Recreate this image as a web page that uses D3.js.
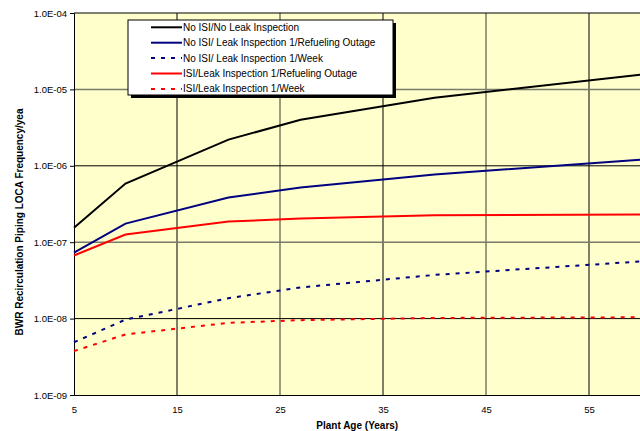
<!DOCTYPE html>
<html><head><meta charset="utf-8">
<script src="https://cdn.jsdelivr.net/npm/d3@7"></script>
<style>body{margin:0;background:#fff}svg{display:block;font-family:"Liberation Sans",Arial,sans-serif}</style>
</head><body>
<svg id="c" width="640" height="431"></svg>
<script>
const ages = [5, 10, 20, 27, 40, 60];
const seriesNames = [
  "No ISI/No Leak Inspection",
  "No ISI/ Leak Inspection 1/Refueling Outage",
  "No ISI/ Leak Inspection 1/Week",
  "ISI/Leak Inspection 1/Refueling Outage",
  "ISI/Leak Inspection 1/Week"
];
const noIsiNoLeak = [1.55e-7, 5.85e-7, 2.2e-6, 4.0e-6, 7.8e-6, 1.56e-5];
const noIsiLeakOutage = [7.3e-8, 1.75e-7, 3.84e-7, 5.2e-7, 7.7e-7, 1.2e-6];
const noIsiLeakWeek = [4.9e-9, 9.7e-9, 1.85e-8, 2.56e-8, 3.73e-8, 5.6e-8];
const isiLeakOutage = [6.7e-8, 1.26e-7, 1.86e-7, 2.04e-7, 2.26e-7, 2.3e-7];
const isiLeakWeek = [3.76e-9, 6.2e-9, 8.8e-9, 9.55e-9, 1.02e-8, 1.04e-8];
const xTicks = [5, 15, 25, 35, 45, 55];
const yTicks = [1e-9, 1e-8, 1e-7, 1e-6, 1e-5, 1e-4];
const yTickLabels = ["1.0E-09", "1.0E-08", "1.0E-07", "1.0E-06", "1.0E-05", "1.0E-04"];
const xTitle = "Plant Age (Years)";
const yTitle = "BWR Recirculation Piping LOCA Frequency/yea";

const series = [
  {name: seriesNames[0], values: noIsiNoLeak, color: "#000000", dash: null},
  {name: seriesNames[1], values: noIsiLeakOutage, color: "#000080", dash: null},
  {name: seriesNames[2], values: noIsiLeakWeek, color: "#000080", dash: "4,6"},
  {name: seriesNames[3], values: isiLeakOutage, color: "#FF0000", dash: null},
  {name: seriesNames[4], values: isiLeakWeek, color: "#FF0000", dash: "4,6"}
];

const svg = d3.select("#c");
const L = 74, R = 640.5, T = 13, B = 395;
const x = d3.scaleLinear().domain([5, 60]).range([L, R]);
const y = d3.scaleLog().domain([1e-9, 1e-4]).range([B, T]);

svg.append("rect").attr("x", L).attr("y", T).attr("width", R - L).attr("height", B - T).attr("fill", "#FFFFCC");

// gridlines
svg.append("g").selectAll("line").data(xTicks.slice(1)).join("line")
  .attr("x1", d => x(d)).attr("x2", d => x(d)).attr("y1", T).attr("y2", B)
  .attr("stroke", (d, i) => i % 2 ? "#7a7a6a" : "#000").attr("stroke-width", (d, i) => i % 2 ? 1.5 : 1);
svg.append("g").selectAll("line").data(yTicks.slice(1)).join("line")
  .attr("x1", L).attr("x2", R).attr("y1", d => y(d)).attr("y2", d => y(d))
  .attr("stroke", (d, i) => i % 2 ? "#7a7a6a" : "#000").attr("stroke-width", (d, i) => i % 2 ? 1.5 : 1);

// axes
const yAxis = d3.axisLeft(y).tickValues(yTicks).tickFormat((d, i) => yTickLabels[i]).tickSizeOuter(0).tickSize(4).tickPadding(3);
const gy = svg.append("g").attr("transform", `translate(${L},0)`).call(yAxis);
gy.selectAll("text").attr("font-size", 9.5).attr("fill", "#000").attr("font-family", "Liberation Sans, Arial, sans-serif");
gy.select(".domain").attr("stroke", "#000");
gy.selectAll(".tick line").attr("stroke", "#000");

const xAxis = d3.axisBottom(x).tickValues(xTicks).tickSize(0).tickSizeOuter(0).tickPadding(11);
const gx = svg.append("g").attr("transform", `translate(0,${B})`).call(xAxis);
gx.selectAll("text").attr("font-size", 9.5).attr("fill", "#000").attr("font-family", "Liberation Sans, Arial, sans-serif");
gx.select(".domain").attr("stroke", "#000");

// lines
const line = d3.line().x((d, i) => x(ages[i])).y(d => y(d));
svg.append("g").selectAll("path").data(series).join("path")
  .attr("d", d => line(d.values))
  .attr("fill", "none").attr("stroke", d => d.color).attr("stroke-width", 2)
  .attr("stroke-dasharray", d => d.dash);

// titles
svg.append("text").attr("x", (L + R) / 2).attr("y", 429).attr("text-anchor", "middle")
  .attr("font-size", 10).attr("font-weight", "bold").text(xTitle);
svg.append("text").attr("transform", `translate(20,${222}) rotate(-90)`).attr("text-anchor", "middle")
  .attr("font-size", 10).attr("font-weight", "bold").attr("dominant-baseline", "middle").text(yTitle);

// legend
const lg = svg.append("g");
const lx = 128, ly = 20, lw = 265, lh = 75;
lg.append("rect").attr("x", lx + 3).attr("y", ly + 3).attr("width", lw).attr("height", lh).attr("fill", "#000");
lg.append("rect").attr("x", lx).attr("y", ly).attr("width", lw).attr("height", lh).attr("fill", "#fff").attr("stroke", "#000").attr("stroke-width", 1);
const items = lg.selectAll("g.item").data(series).join("g").attr("class", "item")
  .attr("transform", (d, i) => `translate(0,${27.3 + i * 15.4})`);
items.append("line").attr("x1", 151).attr("x2", 182).attr("y1", 0).attr("y2", 0)
  .attr("stroke", d => d.color).attr("stroke-width", 2).attr("stroke-dasharray", d => d.dash);
items.append("text").attr("x", 183).attr("y", 0).attr("dominant-baseline", "central")
  .attr("font-size", 10).text(d => d.name);
</script>
</body></html>
